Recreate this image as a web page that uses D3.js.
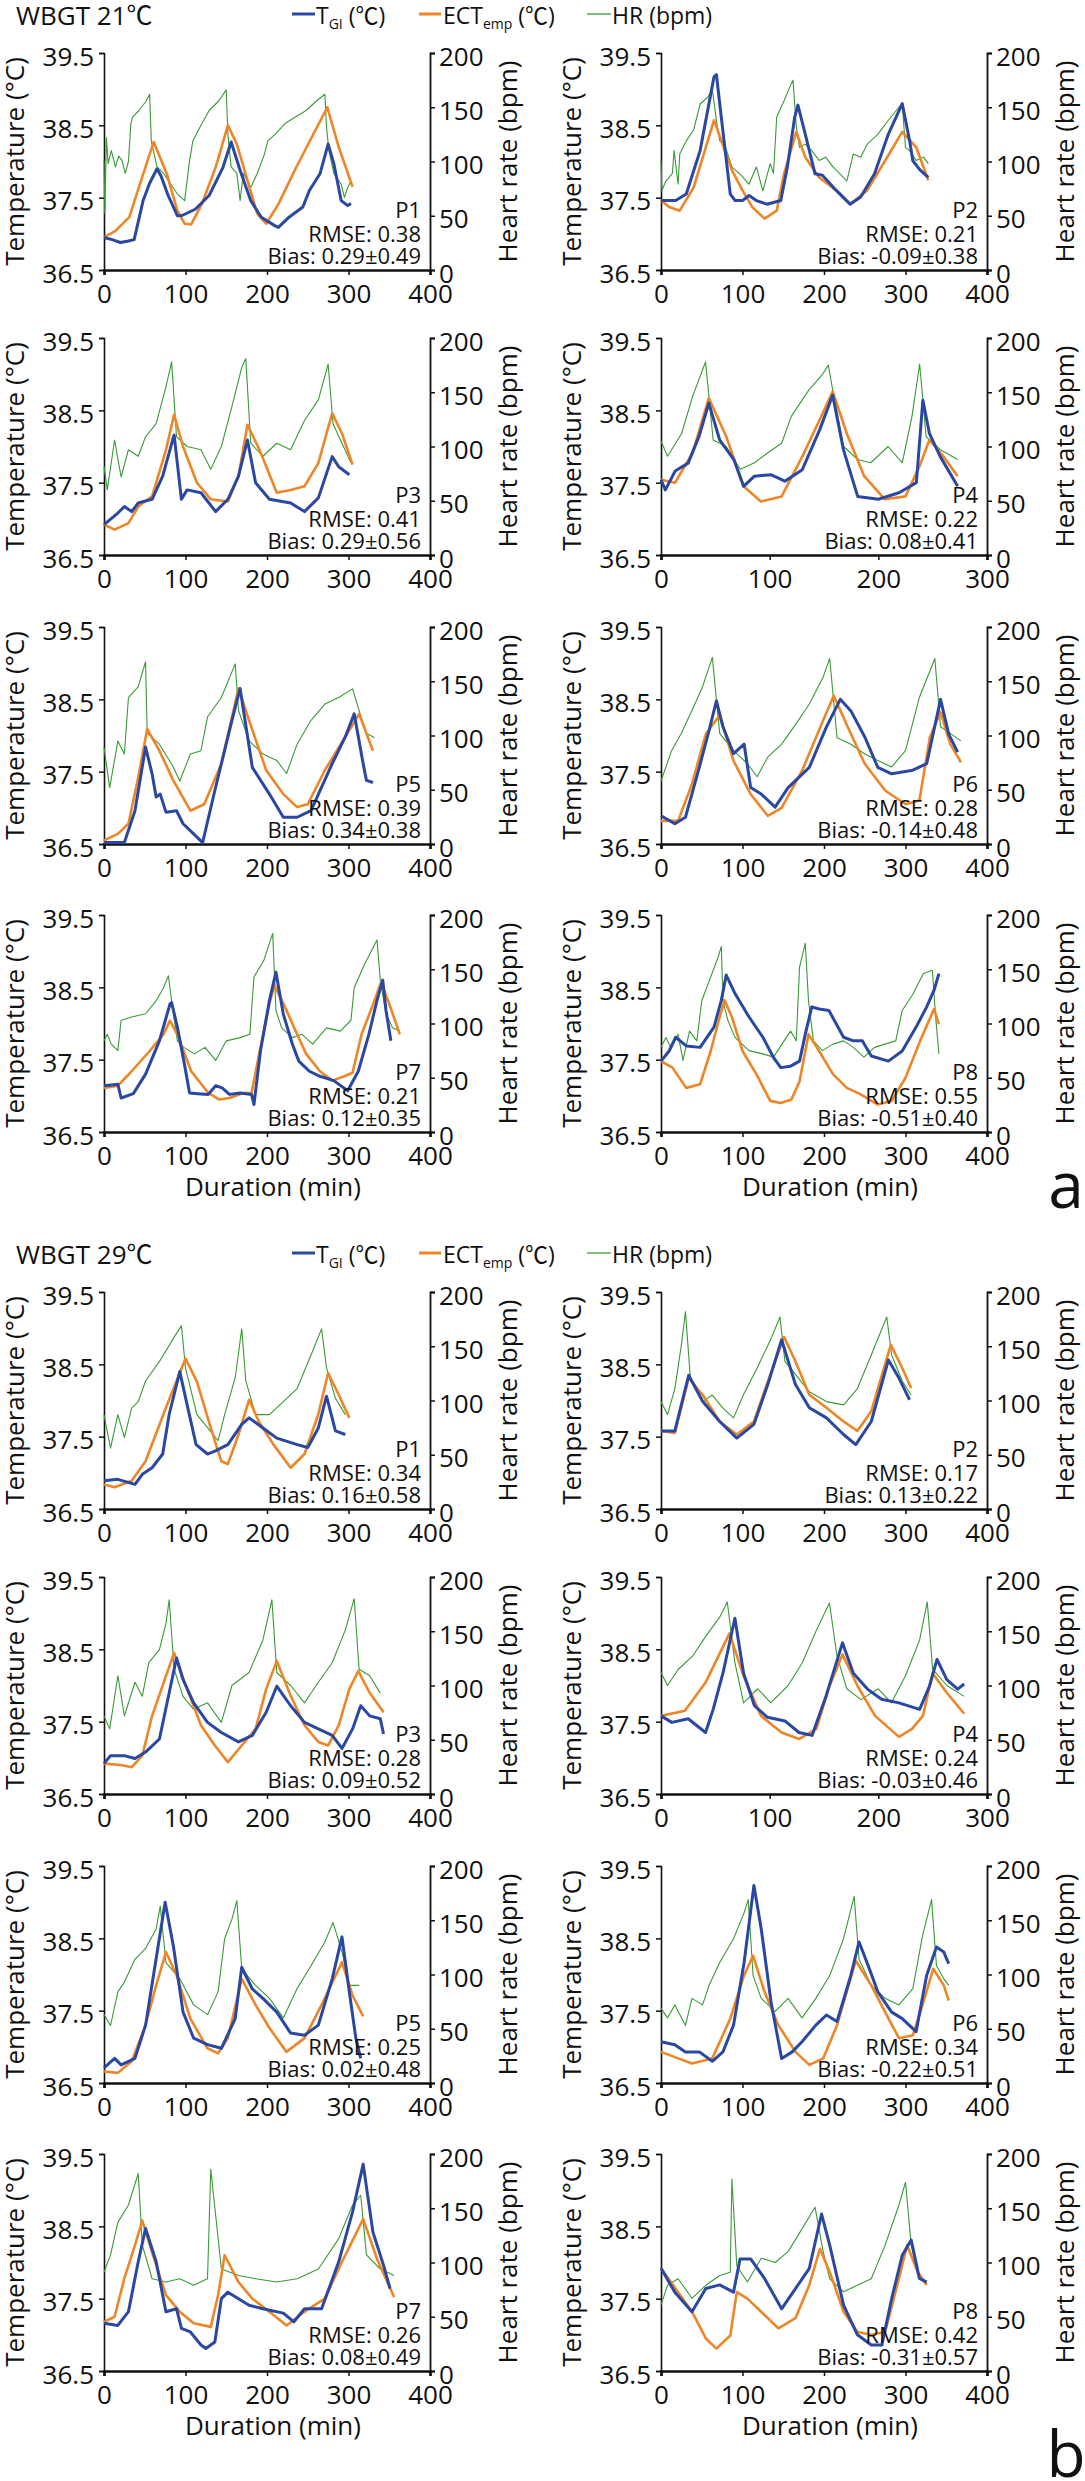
<!DOCTYPE html>
<html><head><meta charset="utf-8">
<script src="https://cdn.jsdelivr.net/npm/d3@7"></script>
<style>
body{margin:0;background:#fff}
svg{display:block}
text{font-family:"Open Sans","Noto Sans CJK SC",sans-serif;fill:#111}
</style>
</head><body>
<svg id="c" width="1085" height="2481"></svg>
<script>
// ---------- DATA (minutes, °C, bpm) ----------
// WBGT 21 (panel a)
const a1_tgi=[[0,36.95],[10,36.92],[20,36.88],[30,36.9],[37,36.92],[48,37.46],[56,37.7],[65,37.9],[70,37.8],[78,37.55],[90,37.25],[95,37.25],[112,37.34],[129,37.53],[146,37.92],[156,38.27],[167,37.88],[180,37.46],[193,37.23],[210,37.11],[214,37.09],[227,37.23],[244,37.37],[252,37.6],[265,37.83],[275,38.24],[282,37.97],[291,37.46],[299,37.39],[303,37.42]];
const a1_ect=[[0,36.95],[14,37.04],[31,37.23],[43,37.65],[61,38.27],[77,37.83],[90,37.32],[99,37.14],[107,37.13],[120,37.41],[137,37.92],[152,38.5],[163,38.24],[176,37.74],[188,37.28],[199,37.14],[214,37.41],[235,37.9],[257,38.38],[274,38.75],[288,38.2],[305,37.65]];
const a1_hr=[[0,101],[1,52],[3,122],[5,98],[9,110],[14,95],[18,105],[22,101],[26,89],[30,100],[33,135],[35,141],[43,147],[52,156],[56,162],[58,119],[65,95],[73,89],[82,79],[90,70],[99,64],[105,101],[109,119],[118,132],[129,147],[141,156],[150,166],[152,125],[156,95],[163,89],[167,64],[171,89],[180,76],[188,89],[197,107],[201,119],[210,125],[222,135],[235,141],[248,147],[261,156],[271,162],[273,132],[276,110],[282,89],[291,79],[295,67],[299,76],[303,82]];

const a2_tgi=[[0,37.46],[18,37.46],[31,37.55],[48,38.15],[65,39.17],[68,39.2],[74,38.61],[85,37.55],[91,37.46],[100,37.46],[108,37.53],[117,37.46],[130,37.41],[147,37.46],[155,37.92],[164,38.61],[168,38.78],[177,38.38],[189,37.83],[198,37.81],[215,37.6],[232,37.41],[245,37.51],[262,37.83],[279,38.38],[296,38.8],[305,38.29],[309,38.01],[318,37.88],[328,37.78]];
const a2_ect=[[0,37.46],[10,37.37],[23,37.32],[40,37.64],[65,38.57],[74,38.29],[87,37.88],[100,37.6],[112,37.37],[127,37.21],[142,37.32],[151,37.83],[166,38.41],[177,38.06],[194,37.78],[215,37.6],[232,37.41],[253,37.6],[275,38.01],[296,38.41],[313,38.2],[328,37.74]];
const a2_hr=[[0,101],[1,73],[6,82],[14,89],[16,110],[21,79],[23,107],[31,119],[40,129],[48,153],[57,159],[63,166],[68,138],[72,119],[78,116],[87,95],[100,86],[108,79],[117,95],[125,73],[134,98],[138,89],[142,141],[151,156],[160,172],[162,175],[166,132],[170,113],[177,116],[185,110],[194,101],[202,104],[211,95],[219,89],[228,82],[236,107],[245,104],[253,116],[266,125],[279,138],[292,150],[296,153],[300,113],[305,110],[313,101],[322,104],[328,98]];

const a3_tgi=[[0,36.92],[17,37.08],[25,37.17],[34,37.1],[42,37.22],[59,37.27],[72,37.59],[86,38.16],[95,37.27],[102,37.4],[119,37.36],[137,37.1],[152,37.27],[165,37.59],[176,38.09],[186,37.5],[203,37.27],[229,37.22],[246,37.1],[263,37.29],[280,37.86],[288,37.72],[301,37.61]];
const a3_ect=[[0,36.92],[13,36.85],[30,36.94],[42,37.17],[59,37.31],[76,37.95],[86,38.44],[97,38.0],[114,37.5],[131,37.27],[152,37.24],[165,37.59],[176,38.3],[191,37.95],[212,37.36],[229,37.4],[246,37.45],[263,37.77],[280,38.46],[292,38.18],[305,37.75]];
const a3_hr=[[0,82],[4,60],[13,106],[21,72],[30,97],[42,91],[51,109],[64,121],[76,155],[83,178],[89,109],[102,100],[119,97],[131,79],[144,100],[157,137],[169,173],[174,181],[180,103],[195,91],[212,103],[229,97],[246,124],[263,143],[275,176],[281,121],[292,103],[303,85]];

const a4_tgi=[[0,37.54],[4,37.4],[13,37.66],[25,37.77],[35,38.14],[44,38.6],[54,38.09],[67,37.82],[76,37.45],[86,37.59],[101,37.61],[114,37.52],[130,37.68],[146,38.23],[158,38.71],[168,37.95],[181,37.31],[200,37.27],[219,37.36],[235,37.5],[241,38.64],[247,38.18],[257,37.86],[273,37.45]];
const a4_ect=[[0,37.54],[13,37.5],[29,37.91],[44,38.67],[60,38.14],[76,37.45],[92,37.24],[111,37.31],[130,37.86],[146,38.37],[158,38.76],[171,38.18],[187,37.59],[206,37.27],[225,37.31],[238,37.73],[247,38.09],[260,37.86],[273,37.59]];
const a4_hr=[[0,105],[6,91],[19,112],[29,146],[38,170],[41,178],[48,106],[60,100],[73,79],[86,85],[98,94],[111,103],[120,128],[136,152],[149,167],[154,175],[158,152],[168,100],[181,88],[193,85],[209,100],[222,85],[231,128],[238,176],[244,109],[257,97],[273,88]];

const a5_tgi=[[0,36.52],[25,36.52],[38,36.96],[51,37.84],[59,37.47],[64,37.15],[69,37.19],[76,36.94],[89,36.96],[97,36.78],[110,36.64],[121,36.52],[136,37.24],[157,38.21],[167,38.65],[182,37.56],[203,37.19],[220,36.87],[237,36.87],[254,36.96],[280,37.61],[296,37.98],[307,38.3],[318,37.61],[322,37.38],[330,37.35]];
const a5_ect=[[0,36.55],[17,36.64],[30,36.78],[42,37.42],[53,38.09],[68,37.79],[85,37.38],[106,36.96],[123,37.05],[144,37.61],[165,38.65],[178,38.21],[199,37.52],[220,37.19],[237,37.01],[250,37.05],[271,37.52],[296,37.98],[313,38.3],[330,37.79]];
const a5_hr=[[0,89],[7,52],[17,95],[25,83],[30,135],[42,145],[51,168],[53,102],[68,92],[85,71],[93,58],[106,83],[119,86],[127,117],[144,135],[161,166],[165,123],[178,95],[195,83],[212,77],[224,65],[237,92],[254,114],[271,129],[288,135],[305,143],[313,123],[322,102],[332,98]];

const a6_tgi=[[0,36.89],[17,36.78],[30,36.87],[47,37.56],[59,38.07],[68,38.48],[76,38.12],[89,37.75],[102,37.88],[110,37.28],[123,37.19],[140,37.01],[156,37.28],[182,37.56],[203,38.12],[220,38.5],[233,38.34],[250,37.98],[266,37.56],[283,37.47],[309,37.52],[326,37.61],[343,38.5],[353,38.02],[364,37.77]];
const a6_ect=[[0,36.82],[21,36.82],[38,37.33],[55,38.02],[72,38.28],[89,37.65],[110,37.19],[131,36.89],[148,37.0],[173,37.51],[199,38.21],[212,38.55],[229,38.12],[250,37.61],[275,37.24],[300,37.05],[317,37.1],[330,37.98],[343,38.32],[355,37.88],[368,37.63]];
const a6_hr=[[0,58],[13,86],[25,102],[38,123],[51,145],[59,163],[63,172],[72,102],[89,86],[106,74],[118,62],[131,80],[148,92],[165,110],[182,129],[199,154],[207,171],[216,98],[233,92],[250,83],[266,77],[283,71],[300,86],[317,135],[336,171],[343,108],[355,102],[368,95]];

const a7_tgi=[[0,37.14],[17,37.16],[21,36.97],[36,37.03],[51,37.3],[68,37.76],[81,38.27],[83,38.29],[90,37.95],[98,37.48],[105,37.04],[115,37.03],[128,37.02],[137,37.14],[145,37.11],[154,37.02],[167,37.04],[181,37.02],[184,36.88],[192,37.62],[203,38.32],[211,38.71],[220,38.13],[231,37.72],[239,37.48],[252,37.34],[265,37.27],[282,37.21],[299,37.07],[312,37.34],[325,37.85],[335,38.32],[342,38.6],[346,38.18],[352,37.76]];
const a7_ect=[[0,37.11],[17,37.14],[34,37.34],[56,37.62],[73,37.85],[81,38.04],[90,37.85],[107,37.34],[128,37.04],[141,36.95],[154,36.97],[171,37.04],[181,37.04],[192,37.67],[203,38.27],[209,38.53],[222,38.23],[235,37.9],[248,37.58],[265,37.34],[280,37.21],[295,37.27],[305,37.32],[316,37.85],[329,38.23],[340,38.57],[350,38.27],[363,37.85]];
const a7_hr=[[0,84],[4,90],[9,81],[17,75],[21,103],[34,106],[51,109],[64,121],[73,133],[79,144],[83,121],[90,84],[98,78],[111,72],[124,78],[137,66],[150,84],[167,87],[179,90],[184,143],[196,158],[207,183],[211,112],[218,96],[231,87],[243,90],[256,81],[273,96],[290,93],[303,103],[307,133],[320,155],[335,177],[339,140],[346,109],[354,96],[363,93]];

const a8_tgi=[[0,37.48],[10,37.62],[18,37.81],[31,37.69],[48,37.67],[65,37.95],[74,38.32],[80,38.67],[91,38.41],[108,38.09],[125,37.81],[138,37.53],[147,37.39],[159,37.41],[170,37.48],[177,37.85],[185,38.23],[194,38.2],[206,38.18],[224,37.81],[236,37.76],[247,37.76],[258,37.55],[279,37.48],[296,37.62],[313,37.95],[326,38.23],[335,38.46],[341,38.69]];
const a8_ect=[[0,37.48],[14,37.39],[31,37.11],[48,37.16],[61,37.62],[72,38.09],[78,38.32],[87,38.09],[100,37.62],[117,37.3],[134,36.93],[147,36.9],[160,36.95],[170,37.2],[181,37.85],[194,37.62],[211,37.3],[228,37.11],[245,37.02],[266,36.88],[283,36.93],[300,37.25],[318,37.76],[335,38.2],[341,37.99]];
const a8_hr=[[0,78],[6,87],[12,78],[21,90],[27,66],[35,93],[44,84],[50,121],[61,143],[70,161],[74,171],[76,121],[82,103],[91,87],[108,75],[125,72],[138,69],[151,84],[159,93],[166,84],[170,152],[177,174],[181,121],[187,84],[198,75],[211,81],[224,84],[236,78],[249,69],[262,78],[275,81],[288,84],[296,112],[309,127],[322,146],[333,149],[337,106],[341,72]];

// WBGT 29 (panel b)
const b1_tgi=[[0,36.89],[17,36.91],[38,36.84],[47,36.98],[59,37.07],[72,37.26],[80,37.81],[93,38.4],[102,37.94],[113,37.39],[127,37.26],[136,37.3],[152,37.39],[169,37.67],[178,37.76],[195,37.62],[212,37.48],[237,37.39],[250,37.35],[263,37.62],[273,38.06],[284,37.58],[296,37.53]];
const b1_ect=[[0,36.84],[13,36.8],[34,36.89],[51,37.16],[76,37.9],[100,38.58],[114,38.26],[131,37.62],[144,37.16],[152,37.12],[165,37.53],[178,38.01],[190,37.71],[208,37.39],[229,37.07],[246,37.26],[263,37.81],[275,38.38],[288,38.08],[301,37.76]];
const b1_hr=[[0,87],[8,56],[17,87],[25,66],[34,93],[42,99],[51,118],[68,136],[85,157],[95,169],[100,130],[114,87],[127,75],[140,63],[148,87],[161,121],[169,166],[174,118],[186,87],[203,87],[220,99],[237,111],[254,142],[267,166],[273,130],[284,102],[296,87]];

const b2_tgi=[[0,37.58],[17,37.58],[34,38.35],[51,37.99],[72,37.71],[93,37.48],[114,37.67],[131,38.22],[148,38.84],[165,38.22],[182,37.9],[203,37.76],[224,37.53],[239,37.39],[258,37.71],[279,38.56],[292,38.31],[305,38.01]];
const b2_ect=[[0,37.58],[17,37.55],[34,38.31],[51,38.08],[72,37.71],[93,37.53],[114,37.71],[131,38.26],[151,38.88],[165,38.54],[182,38.08],[203,37.9],[224,37.71],[241,37.58],[258,37.85],[271,38.35],[282,38.77],[296,38.45],[307,38.17]];
const b2_hr=[[0,99],[8,87],[17,111],[25,151],[30,182],[36,121],[51,99],[63,105],[76,93],[89,84],[101,105],[118,130],[135,157],[146,177],[152,136],[165,124],[182,108],[203,99],[224,96],[241,111],[258,142],[277,177],[283,142],[296,118],[307,105]];

const b3_tgi=[[0,36.92],[8,37.03],[25,37.03],[38,36.99],[51,37.08],[68,37.26],[80,37.9],[89,38.38],[97,38.08],[110,37.76],[127,37.49],[144,37.35],[165,37.22],[182,37.31],[199,37.63],[212,37.99],[229,37.72],[246,37.49],[263,37.4],[280,37.31],[292,37.13],[305,37.4],[315,37.72],[326,37.58],[339,37.54],[343,37.33]];
const b3_ect=[[0,36.92],[21,36.9],[34,36.87],[47,37.03],[59,37.58],[76,38.13],[86,38.45],[102,37.95],[119,37.45],[136,37.17],[152,36.94],[169,37.17],[186,37.4],[199,37.95],[212,38.34],[229,37.86],[246,37.45],[263,37.22],[275,37.17],[288,37.45],[301,37.95],[312,38.2],[326,37.9],[343,37.63]];
const b3_hr=[[0,72],[7,60],[17,109],[25,72],[38,103],[47,90],[55,121],[68,133],[76,157],[80,179],[86,115],[97,90],[110,78],[127,84],[144,66],[157,100],[178,112],[195,142],[206,179],[212,112],[229,100],[246,84],[263,103],[280,121],[296,151],[307,180],[313,115],[326,109],[339,93]];

const b4_tgi=[[0,37.58],[10,37.49],[25,37.54],[41,37.35],[48,37.67],[57,38.17],[68,38.93],[76,38.17],[86,37.72],[98,37.56],[114,37.51],[127,37.35],[139,37.31],[152,37.86],[167,38.59],[177,38.17],[190,37.95],[203,37.81],[219,37.76],[238,37.67],[247,37.99],[254,38.36],[263,38.08],[273,37.95],[279,38.02]];
const b4_ect=[[0,37.58],[22,37.65],[41,38.04],[63,38.72],[76,38.13],[92,37.58],[111,37.35],[127,37.26],[143,37.4],[155,37.99],[167,38.43],[181,37.99],[197,37.58],[219,37.29],[231,37.4],[241,37.58],[250,38.17],[263,37.9],[279,37.61]];
const b4_hr=[[0,112],[6,100],[16,115],[29,127],[41,145],[54,163],[61,177],[68,121],[76,84],[89,97],[101,84],[117,100],[130,121],[143,151],[155,176],[162,127],[171,97],[184,87],[200,97],[212,84],[225,109],[238,142],[245,177],[250,115],[263,100],[279,90]];

const b5_tgi=[[0,36.71],[13,36.84],[21,36.75],[38,36.84],[51,37.3],[64,38.22],[75,39.0],[85,38.4],[97,37.48],[110,37.12],[127,37.03],[144,36.98],[161,37.39],[169,38.1],[182,37.8],[195,37.67],[212,37.48],[229,37.19],[246,37.16],[263,37.3],[280,37.94],[292,38.52],[301,37.76],[309,37.12],[315,36.84]];
const b5_ect=[[0,36.66],[17,36.64],[34,36.8],[51,37.3],[64,37.85],[76,38.31],[89,37.99],[106,37.39],[127,36.98],[140,36.91],[152,37.12],[169,37.94],[186,37.58],[203,37.26],[224,36.93],[246,37.12],[267,37.58],[292,38.17],[305,37.71],[318,37.42]];
const b5_hr=[[0,63],[8,53],[17,84],[25,93],[38,114],[51,124],[64,142],[69,163],[76,111],[93,96],[110,72],[127,63],[140,84],[148,133],[157,151],[163,168],[169,105],[186,90],[203,78],[220,60],[237,87],[254,108],[271,130],[281,148],[292,121],[301,90],[313,90]];

const b6_tgi=[[0,37.07],[17,37.03],[30,36.93],[47,36.93],[63,36.8],[76,36.93],[89,37.3],[102,38.17],[114,39.23],[123,38.63],[135,37.62],[148,36.84],[161,36.93],[173,37.07],[190,37.3],[203,37.44],[216,37.35],[233,37.99],[243,38.45],[254,38.13],[266,37.76],[283,37.48],[296,37.39],[313,37.21],[326,37.99],[338,38.38],[347,38.31],[353,38.15]];
const b6_ect=[[0,36.93],[21,36.84],[38,36.77],[63,36.84],[85,37.39],[102,37.99],[113,38.26],[127,37.76],[144,37.3],[165,36.93],[182,36.75],[199,36.84],[216,37.3],[239,38.19],[258,37.85],[275,37.48],[292,37.12],[309,37.16],[321,37.58],[334,38.08],[347,37.85],[353,37.64]];
const b6_hr=[[0,69],[8,60],[17,72],[30,53],[38,78],[51,72],[59,90],[72,111],[89,133],[102,157],[107,169],[113,99],[123,78],[140,66],[156,78],[173,60],[190,78],[207,99],[224,133],[237,172],[243,114],[258,90],[275,78],[292,72],[309,87],[321,136],[332,169],[338,108],[347,96],[353,90]];

const b7_tgi=[[0,37.16],[17,37.13],[30,37.32],[42,38.01],[51,38.47],[64,38.01],[76,37.32],[89,37.36],[95,37.09],[106,37.04],[119,36.86],[125,36.81],[136,36.9],[144,37.5],[152,37.59],[165,37.5],[178,37.41],[195,37.36],[220,37.3],[233,37.18],[246,37.36],[267,37.36],[288,38.01],[305,38.7],[318,39.36],[330,38.42],[343,37.96],[351,37.64]];
const b7_ect=[[0,37.18],[13,37.25],[25,37.78],[38,38.24],[47,38.58],[59,38.14],[76,37.55],[93,37.32],[110,37.16],[131,37.11],[140,37.55],[148,38.1],[165,37.73],[182,37.5],[203,37.32],[224,37.13],[246,37.32],[271,37.5],[292,38.01],[318,38.6],[335,38.05],[356,37.52]];
const b7_hr=[[0,91],[8,107],[17,137],[30,153],[42,182],[47,116],[59,85],[76,82],[93,85],[110,79],[127,85],[131,186],[144,94],[165,88],[186,85],[212,82],[237,85],[263,94],[288,122],[305,153],[315,162],[322,107],[339,94],[356,88]];

const b8_tgi=[[0,37.92],[17,37.59],[38,37.32],[55,37.64],[72,37.69],[89,37.59],[97,38.05],[110,38.05],[127,37.78],[148,37.36],[165,37.64],[182,37.92],[197,38.67],[207,38.24],[224,37.41],[241,37.0],[258,36.86],[271,36.86],[283,37.5],[296,38.1],[307,38.31],[317,37.78],[326,37.73]];
const b8_ect=[[0,37.92],[21,37.59],[38,37.32],[55,36.95],[68,36.81],[85,36.99],[93,37.59],[106,37.5],[123,37.32],[144,37.09],[165,37.23],[182,37.69],[195,38.19],[207,37.87],[224,37.32],[241,37.04],[258,37.0],[275,37.04],[292,37.78],[302,38.24],[315,37.87],[326,37.69]];
const b8_hr=[[0,61],[8,79],[21,85],[38,67],[55,79],[72,88],[85,91],[87,177],[93,97],[106,82],[123,104],[140,100],[156,110],[173,131],[189,151],[199,110],[207,85],[224,73],[241,79],[258,85],[275,116],[292,153],[300,174],[307,116],[317,85],[326,82]];

// labels / text
const groupTitles=["WBGT 21℃","WBGT 29℃"];
const groupLetters=["a","b"];
const panelNames=["P1","P2","P3","P4","P5","P6","P7","P8"];
const rmseA=["0.38","0.21","0.41","0.22","0.39","0.28","0.21","0.55"];
const biasA=["0.29±0.49","-0.09±0.38","0.29±0.56","0.08±0.41","0.34±0.38","-0.14±0.48","0.12±0.35","-0.51±0.40"];
const rmseB=["0.34","0.17","0.28","0.24","0.25","0.34","0.26","0.42"];
const biasB=["0.16±0.58","0.13±0.22","0.09±0.52","-0.03±0.46","0.02±0.48","-0.22±0.51","0.08±0.49","-0.31±0.57"];
const xMaxA=[400,400,400,300,400,400,400,400];
const xMaxB=[400,400,400,300,400,400,400,400];
const tempTicks=[36.5,37.5,38.5,39.5];
const hrTicks=[0,50,100,150,200];
const seriesColors={tgi:"#2a47a2",ect:"#ee8526",hr:"#3a9a35"};

const tgiA=[a1_tgi,a2_tgi,a3_tgi,a4_tgi,a5_tgi,a6_tgi,a7_tgi,a8_tgi];
const ectA=[a1_ect,a2_ect,a3_ect,a4_ect,a5_ect,a6_ect,a7_ect,a8_ect];
const hrA=[a1_hr,a2_hr,a3_hr,a4_hr,a5_hr,a6_hr,a7_hr,a8_hr];
const tgiB=[b1_tgi,b2_tgi,b3_tgi,b4_tgi,b5_tgi,b6_tgi,b7_tgi,b8_tgi];
const ectB=[b1_ect,b2_ect,b3_ect,b4_ect,b5_ect,b6_ect,b7_ect,b8_ect];
const hrB=[b1_hr,b2_hr,b3_hr,b4_hr,b5_hr,b6_hr,b7_hr,b8_hr];

// ---------- LAYOUT ----------
const svg=d3.select("#c");
const colX=[104,661], plotW=326, plotH=217;
const rowTop=[53,338,627,915];
const groupDy=[0,1239];

const groups=[
  {title:groupTitles[0],letter:groupLetters[0],rmse:rmseA,bias:biasA,xmax:xMaxA,tgi:tgiA,ect:ectA,hr:hrA,letterY:1208},
  {title:groupTitles[1],letter:groupLetters[1],rmse:rmseB,bias:biasB,xmax:xMaxB,tgi:tgiB,ect:ectB,hr:hrB,letterY:2477}
];

function styleAxis(g,fs,sw){
  g.select(".domain").attr("stroke","#111").attr("stroke-width",sw);
  g.selectAll(".tick line").attr("stroke","#111").attr("stroke-width",1.5);
  g.selectAll(".tick text").attr("font-size",fs).attr("fill","#111")
    .style("font-family",'"Open Sans","Noto Sans CJK SC",sans-serif');
}

groups.forEach((G,gi)=>{
  const dy=groupDy[gi];
  const top0=rowTop[0]+dy;
  // header
  svg.append("text").attr("x",16).attr("y",top0-28).attr("font-size",26).text(G.title);
  // legend
  const leg=[
    {x1:292,x2:315,tx:316,color:seriesColors.tgi,w:3,main:"T",sub:"GI",rest:" (℃)"},
    {x1:419,x2:441,tx:443,color:seriesColors.ect,w:3,main:"ECT",sub:"emp",rest:" (℃)"},
    {x1:587,x2:611,tx:612,color:seriesColors.hr,w:1.3,main:"HR (bpm)",sub:"",rest:""}
  ];
  leg.forEach(l=>{
    svg.append("line").attr("x1",l.x1).attr("x2",l.x2).attr("y1",top0-39).attr("y2",top0-39)
      .attr("stroke",l.color).attr("stroke-width",l.w);
    const t=svg.append("text").attr("x",l.tx).attr("y",top0-29).attr("font-size",23);
    t.append("tspan").text(l.main);
    if(l.sub){
      t.append("tspan").attr("font-size",14).attr("dy",5).text(l.sub);
      t.append("tspan").attr("dy",-5).text(l.rest);
    }
  });
  // letter
  svg.append("text").attr("x",1066).attr("y",G.letterY).attr("text-anchor","middle")
    .attr("font-size",64).text(G.letter);

  for(let i=0;i<8;i++){
    const row=Math.floor(i/2), col=i%2;
    const x0=colX[col], top=rowTop[row]+dy, bottom=top+plotH;
    const xmax=G.xmax[i];
    const x=d3.scaleLinear().domain([0,xmax]).range([x0,x0+plotW]);
    const yT=d3.scaleLinear().domain([36.5,39.5]).range([bottom,top]);
    const yH=d3.scaleLinear().domain([0,200]).range([bottom,top]);
    const g=svg.append("g");

    // axes
    const ax=g.append("g").attr("transform",`translate(${x0},0)`)
      .call(d3.axisLeft(yT).tickValues(tempTicks).tickFormat(d3.format(".1f")).tickSizeOuter(0).tickSize(5).tickPadding(5));
    styleAxis(ax,26,1.6);
    ax.selectAll(".tick text").attr("dy","0.47em");

    const ar=g.append("g").attr("transform",`translate(${x0+plotW},0)`)
      .call(d3.axisRight(yH).tickValues(hrTicks).tickSizeOuter(0).tickSize(5).tickPadding(4));
    styleAxis(ar,26,1.8);
    ar.selectAll(".tick text").attr("dy","0.47em");

    const ab=g.append("g").attr("transform",`translate(0,${bottom})`)
      .call(d3.axisBottom(x).tickValues(d3.range(0,xmax+1,100)).tickSizeOuter(0).tickSize(5).tickPadding(10));
    styleAxis(ab,26,2.6);

    // axis titles
    g.append("text").attr("transform",`translate(${x0-80.5},${top+plotH/2}) rotate(-90)`)
      .attr("text-anchor","middle").attr("font-size",26).text("Temperature (°C)");
    g.append("text").attr("transform",`translate(${x0+plotW+87},${top+plotH/2}) rotate(-90)`)
      .attr("text-anchor","middle").attr("font-size",26).text("Heart rate (bpm)");
    if(row===3){
      g.append("text").attr("x",x0+plotW/2+6).attr("y",bottom+64).attr("text-anchor","middle")
        .attr("font-size",26).text("Duration (min)");
    }

    // series
    const lT=d3.line().x(d=>x(d[0])).y(d=>yT(d[1]));
    const lH=d3.line().x(d=>x(d[0])).y(d=>yH(d[1]));
    g.append("path").datum(G.hr[i]).attr("d",lH).attr("fill","none")
      .attr("stroke",seriesColors.hr).attr("stroke-width",1.1).attr("stroke-linejoin","round");
    g.append("path").datum(G.ect[i]).attr("d",lT).attr("fill","none")
      .attr("stroke",seriesColors.ect).attr("stroke-width",2.6).attr("stroke-linejoin","round");
    g.append("path").datum(G.tgi[i]).attr("d",lT).attr("fill","none")
      .attr("stroke",seriesColors.tgi).attr("stroke-width",3).attr("stroke-linejoin","round");

    // annotations
    const ax2=x0+plotW-9;
    g.append("text").attr("x",ax2).attr("y",bottom-52).attr("text-anchor","end").attr("font-size",22).text(panelNames[i]);
    g.append("text").attr("x",ax2).attr("y",bottom-28).attr("text-anchor","end").attr("font-size",22).text("RMSE: "+G.rmse[i]);
    g.append("text").attr("x",ax2).attr("y",bottom-6).attr("text-anchor","end").attr("font-size",22).text("Bias: "+G.bias[i]);
  }
});
</script>
</body></html>
